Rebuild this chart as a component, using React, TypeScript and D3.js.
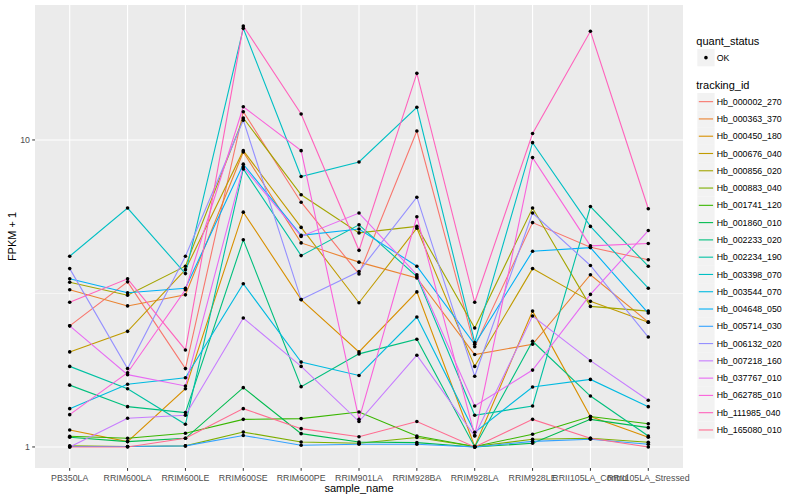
import React from 'react';
import * as d3 from 'd3';

const categories = [
  'PB350LA', 'RRIM600LA', 'RRIM600LE', 'RRIM600SE', 'RRIM600PE', 'RRIM901LA',
  'RRIM928BA', 'RRIM928LA', 'RRIM928LE', 'RRII105LA_Control', 'RRII105LA_Stressed',
];

const trackingIds = [
  'Hb_000002_270', 'Hb_000363_370', 'Hb_000450_180', 'Hb_000676_040', 'Hb_000856_020',
  'Hb_000883_040', 'Hb_001741_120', 'Hb_001860_010', 'Hb_002233_020', 'Hb_002234_190',
  'Hb_003398_070', 'Hb_003544_070', 'Hb_004648_050', 'Hb_005714_030', 'Hb_006132_020',
  'Hb_007218_160', 'Hb_037767_010', 'Hb_062785_010', 'Hb_111985_040', 'Hb_165080_010',
];

// FPKM + 1, one row per tracking_id, one value per sample
const fpkmPlusOne = [
  [2.48, 3.45, 1.80, 12.36, 6.27, 3.66, 10.69, 2.12, 5.38, 4.47, 4.07],
  [3.25, 2.88, 3.13, 9.14, 4.62, 4.00, 3.55, 2.00, 2.16, 3.64, 2.55],
  [1.136, 1.041, 1.548, 5.82, 3.02, 2.04, 3.20, 1.003, 2.77, 1.256, 1.075],
  [2.04, 2.38, 3.78, 9.23, 5.19, 2.95, 5.16, 1.83, 3.81, 2.98, 2.55],
  [3.44, 3.12, 3.88, 11.79, 6.63, 4.98, 5.23, 2.44, 6.00, 2.87, 2.77],
  [1.008, 1.003, 1.008, 1.118, 1.038, 1.028, 1.073, 1.003, 1.059, 1.067, 1.036],
  [1.083, 1.067, 1.108, 1.23, 1.237, 1.30, 1.086, 1.003, 1.10, 1.256, 1.19],
  [1.075, 1.041, 1.067, 1.56, 1.105, 1.038, 1.033, 1.0, 1.028, 1.23, 1.156],
  [1.59, 1.353, 1.294, 4.73, 1.572, 2.01, 2.244, 1.0, 2.21, 1.465, 1.086],
  [1.83, 1.548, 1.185, 8.05, 4.20, 5.29, 3.59, 1.268, 1.36, 6.07, 3.88],
  [4.18, 6.0, 3.67, 23.1, 7.60, 8.48, 12.78, 2.19, 9.80, 5.23, 3.29],
  [1.333, 1.60, 1.68, 3.40, 1.89, 1.71, 2.65, 1.116, 1.567, 1.66, 1.353],
  [3.53, 3.18, 3.29, 8.34, 4.89, 5.13, 3.88, 2.16, 4.34, 4.46, 2.73],
  [1.003, 1.003, 1.008, 1.09, 1.013, 1.02, 1.02, 1.0, 1.043, 1.059, 1.02],
  [3.81, 1.80, 4.18, 11.6, 3.02, 3.73, 6.51, 1.70, 5.78, 3.90, 2.28],
  [1.0, 1.24, 1.268, 2.63, 1.83, 1.21, 1.99, 1.086, 2.67, 1.91, 1.42],
  [2.48, 1.72, 1.58, 8.17, 4.85, 5.78, 3.64, 1.36, 1.78, 3.14, 5.07],
  [1.274, 1.745, 3.25, 12.83, 9.23, 1.23, 5.62, 1.09, 8.76, 4.52, 4.60],
  [2.96, 3.53, 2.07, 23.5, 12.15, 4.37, 16.48, 2.96, 10.5, 22.6, 5.97],
  [1.0, 1.0, 1.067, 1.333, 1.147, 1.08, 1.21, 1.0, 1.23, 1.067, 1.0],
];

const yTicks = [1, 10];

const palette = [
  '#F8766D', '#EA8331', '#D89000', '#C09B00', '#A3A500', '#7CAE00', '#39B600',
  '#00BB4E', '#00BF7D', '#00C1A3', '#00BFC4', '#00BAE0', '#00B0F6', '#35A2FF',
  '#9590FF', '#C77CFF', '#E76BF3', '#FA62DB', '#FF62BC', '#FF6C90',
];

const width = 800;
const height = 500;
const panel = { left: 35, right: 683, top: 5, bottom: 468 };
const font = '"Liberation Sans", Arial, Helvetica, sans-serif';

const App: React.FC = () => {
  const x = d3
    .scalePoint<string>()
    .domain(categories)
    .range([panel.left, panel.right])
    .padding(0.6);

  // ggplot-style 5% expansion in log space
  const all = fpkmPlusOne.flat();
  const lo = Math.log10(d3.min(all) || 1);
  const hi = Math.log10(d3.max(all) || 10);
  const pad = (hi - lo) * 0.05;
  const y = d3
    .scaleLog()
    .domain([Math.pow(10, lo - pad), Math.pow(10, hi + pad)])
    .range([panel.bottom, panel.top]);

  const line = d3
    .line<number>()
    .x((_, i) => x(categories[i]) as number)
    .y(d => y(d));

  const minorTicks = [Math.sqrt(10)];

  const legendX = 697.3;
  const keySize = 17.3;
  const keyTop = 93;

  return (
    <svg
      width={width}
      height={height}
      style={{ position: 'absolute', left: 0, top: 0, background: '#fff', fontFamily: font }}
    >
      <rect x={panel.left} y={panel.top} width={panel.right - panel.left} height={panel.bottom - panel.top} fill="#EBEBEB" />
      {minorTicks.map(t => (
        <line key={'m' + t} x1={panel.left} x2={panel.right} y1={y(t)} y2={y(t)} stroke="#fff" strokeWidth={0.55} />
      ))}
      {yTicks.map(t => (
        <line key={'g' + t} x1={panel.left} x2={panel.right} y1={y(t)} y2={y(t)} stroke="#fff" strokeWidth={1.1} />
      ))}
      {categories.map(c => (
        <line key={'v' + c} x1={x(c)} x2={x(c)} y1={panel.top} y2={panel.bottom} stroke="#fff" strokeWidth={1.1} />
      ))}

      {fpkmPlusOne.map((row, i) => (
        <path key={trackingIds[i]} d={line(row) || ''} fill="none" stroke={palette[i]} strokeWidth={1.1} />
      ))}
      {fpkmPlusOne.map((row, i) =>
        row.map((v, j) => (
          <circle key={trackingIds[i] + j} cx={x(categories[j])} cy={y(v)} r={1.8} fill="#000" />
        ))
      )}

      {/* y axis */}
      {yTicks.map(t => (
        <g key={'yt' + t}>
          <line x1={panel.left - 2.8} x2={panel.left} y1={y(t)} y2={y(t)} stroke="#333" strokeWidth={1} />
          <text x={panel.left - 5} y={y(t)} dy="0.35em" textAnchor="end" fontSize={8.8} fill="#4D4D4D">
            {t}
          </text>
        </g>
      ))}
      {/* x axis */}
      {categories.map(c => (
        <g key={'xt' + c}>
          <line x1={x(c)} x2={x(c)} y1={panel.bottom} y2={panel.bottom + 2.8} stroke="#333" strokeWidth={1} />
          <text x={x(c)} y={panel.bottom + 13} textAnchor="middle" fontSize={8.8} fill="#4D4D4D">
            {c}
          </text>
        </g>
      ))}
      <text x={(panel.left + panel.right) / 2} y={492} textAnchor="middle" fontSize={11} fill="#000">
        sample_name
      </text>
      <text
        transform={`translate(16,${(panel.top + panel.bottom) / 2}) rotate(-90)`}
        textAnchor="middle"
        fontSize={11}
        fill="#000"
      >
        FPKM + 1
      </text>

      {/* legend: quant_status */}
      <text x={legendX - 1} y={45} fontSize={11} fill="#000">quant_status</text>
      <rect x={legendX} y={49} width={keySize} height={keySize} fill="#F2F2F2" />
      <circle cx={legendX + keySize / 2} cy={49 + keySize / 2} r={1.8} fill="#000" />
      <text x={716.7} y={49 + keySize / 2} dy="0.35em" fontSize={8.8} fill="#000">OK</text>

      {/* legend: tracking_id */}
      <text x={legendX - 1} y={89} fontSize={11} fill="#000">tracking_id</text>
      {trackingIds.map((id, i) => {
        const top = keyTop + i * 17.28;
        return (
          <g key={'lg' + id}>
            <rect x={legendX} y={top} width={keySize} height={keySize} fill="#F2F2F2" />
            <line
              x1={legendX + 1.5}
              x2={legendX + keySize - 1.5}
              y1={top + keySize / 2}
              y2={top + keySize / 2}
              stroke={palette[i]}
              strokeWidth={1.1}
            />
            <text x={716.7} y={top + keySize / 2} dy="0.35em" fontSize={8.8} fill="#000">
              {id}
            </text>
          </g>
        );
      })}
    </svg>
  );
};

export default App;
